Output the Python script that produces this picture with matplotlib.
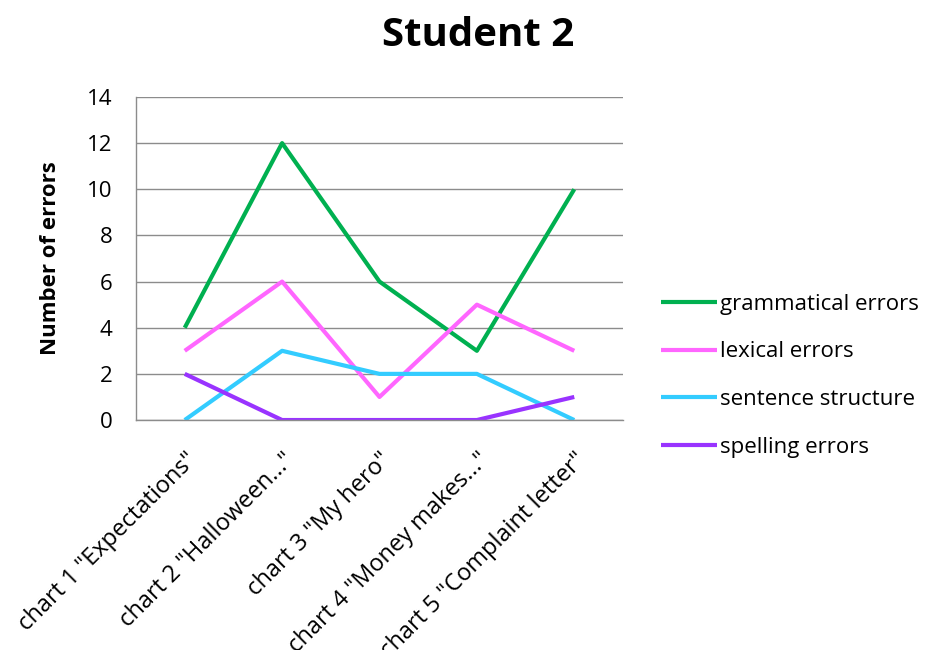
import matplotlib
matplotlib.use("Agg")
import matplotlib.pyplot as plt

plt.rcParams['font.family'] = ['Open Sans', 'DejaVu Sans']

categories = ['chart 1 "Expectations"', 'chart 2 "Halloween..."', 'chart 3 "My hero"',
              'chart 4 "Money makes..."', 'chart 5 "Complaint letter"']
grammatical = [4, 12, 6, 3, 10]
lexical = [3, 6, 1, 5, 3]
sentence = [0, 3, 2, 2, 0]
spelling = [2, 0, 0, 0, 1]

series = [
    ('grammatical errors', grammatical, '#00B050'),
    ('lexical errors', lexical, '#FF66FF'),
    ('sentence structure', sentence, '#33CCFF'),
    ('spelling errors', spelling, '#9933FF'),
]

fig = plt.figure(figsize=(9.33, 6.5), dpi=100)
ax = fig.add_axes([0.1458, 0.3538, 0.5219, 0.497])

x = list(range(len(categories)))
for name, vals, col in series:
    ax.plot(x, vals, color=col, lw=3, label=name, solid_capstyle='butt')

ax.set_xlim(-0.5, len(categories) - 0.5)
ax.set_ylim(0, 14)
ax.set_yticks(range(0, 15, 2))
ax.grid(axis='y', color='#8c8c8c', lw=1)
ax.set_axisbelow(True)
for s in ['top', 'right']:
    ax.spines[s].set_visible(False)
for s in ['left', 'bottom']:
    ax.spines[s].set_color('#8c8c8c')
    ax.spines[s].set_linewidth(1)

ax.set_xticks(x)
ax.set_xticklabels(categories, rotation=45, ha='right', va='top',
                   rotation_mode='anchor', fontsize=17)
ax.tick_params(axis='x', length=0, pad=20)
ax.tick_params(axis='y', length=0, pad=17, labelsize=16)

ax.set_ylabel('Number of errors', fontsize=16, fontweight='bold', labelpad=19)
fig.text(0.512, 1 - 35 / 650, 'Student 2', ha='center', va='center',
         fontsize=29, fontweight='bold')

fig.legend(loc='center left', bbox_to_anchor=(0.709, 0.422), frameon=False,
           fontsize=16, handlelength=2.5, handletextpad=0.13, labelspacing=1.2,
           borderpad=0, borderaxespad=0)

fig.savefig('out.png', dpi=100)
